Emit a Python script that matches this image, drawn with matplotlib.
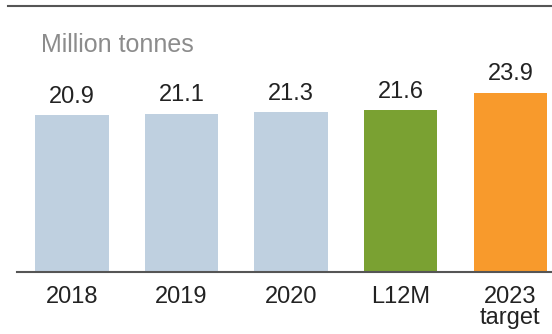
import matplotlib.pyplot as plt
from matplotlib.lines import Line2D

plt.rcParams['font.family'] = ['Liberation Sans', 'DejaVu Sans']

labels = ['2018', '2019', '2020', 'L12M', '2023\ntarget']
values = [20.9, 21.1, 21.3, 21.6, 23.9]
colors = ['#bfd0e0', '#bfd0e0', '#bfd0e0', '#7aa132', '#f89a2c']

fig = plt.figure(figsize=(5.52, 3.34), dpi=100)
ax = fig.add_axes([17 / 552, 62 / 334, 535 / 552, 266 / 334])

x = range(len(values))
ax.bar(x, values, width=0.67, color=colors)
for i, v in zip(x, values):
    ax.text(i, v + 1.0, f'{v:.1f}', ha='center', va='bottom',
            fontsize=17, color='#222222')

ax.set_xlim(-0.5, 4.38)
ax.set_ylim(0, 35.5)
ax.set_xticks(list(x))
ax.set_xticklabels(labels, fontsize=17, color='#222222', linespacing=0.95)
ax.tick_params(axis='x', length=0, pad=10)
ax.set_yticks([])
for side in ['left', 'right', 'top']:
    ax.spines[side].set_visible(False)
ax.spines['bottom'].set_color('#555555')
ax.spines['bottom'].set_linewidth(1.5)

# rule across the top of the panel
fig.add_artist(Line2D([8 / 552, 1], [1 - 6 / 334, 1 - 6 / 334],
                      color='#555555', linewidth=1.5))
fig.text(41 / 552, 1 - 45 / 334, 'Million tonnes', fontsize=18,
         color='#8c8c8c', va='center', ha='left')

fig.savefig('out.png', dpi=100)
